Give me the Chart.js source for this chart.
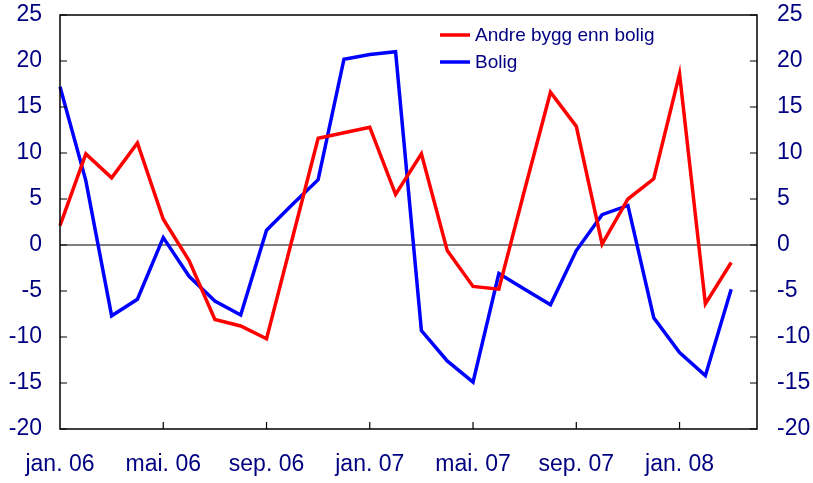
<!DOCTYPE html>
<html>
<head>
<meta charset="utf-8">
<script src="https://cdn.jsdelivr.net/npm/chart.js@4.4.0/dist/chart.umd.min.js"></script>
<style>
  body { margin: 0; background: #fff; }
  #wrap { width: 813px; height: 483px; }
</style>
</head>
<body>
<div id="wrap"><canvas id="chart" width="813" height="483"></canvas></div>
<script>
// Månedlige etiketter, jan. 06 - apr. 08
const months = ['jan.', 'feb.', 'mar.', 'apr.', 'mai.', 'jun.', 'jul.', 'aug.', 'sep.', 'okt.', 'nov.', 'des.'];
const labels = [];
for (let y = 6; y <= 8; y++) {
    for (let m = 0; m < 12; m++) {
        if (y === 8 && m > 3) break;
        labels.push(months[m] + ' 0' + y);
    }
}

// Serier (lest av fra figuren)
const andreBygg = [2.1, 9.9, 7.3, 11.1, 2.8, -1.7, -8.1, -8.8, -10.2, 0.7, 11.6, 12.2, 12.8, 5.5, 9.9,
    -0.6, -4.5, -4.8, 6.0, 16.6, 12.9, 0.1, 5.0, 7.2, 18.6, -6.4, -1.9];
const bolig = [17.2, 7.0, -7.7, -5.9, 0.8, -3.4, -6.1, -7.6, 1.6, 4.4, 7.1, 20.2, 20.7, 21.0, -9.3,
    -12.6, -14.9, -3.1, -4.8, -6.5, -0.6, 3.3, 4.3, -7.9, -11.7, -14.2, -4.8];

const yMin = -20, yMax = 25, yStep = 5;
const textColor = '#000080';
const fontFamily = "'Liberation Sans', Arial, sans-serif";

// Ramme, innvendige tikkmerker, nullinje og tegnforklaring
const framePlugin = {
    id: 'frame',
    beforeDatasetsDraw(chart) {
        const { ctx, chartArea: a, scales } = chart;
        const y0 = scales.y.getPixelForValue(0);
        ctx.save();
        ctx.strokeStyle = '#000';
        ctx.lineWidth = 1.2;
        ctx.beginPath();
        ctx.moveTo(a.left, y0);
        ctx.lineTo(a.right, y0);
        ctx.stroke();
        ctx.restore();
    },
    afterDraw(chart) {
        const { ctx, chartArea: a, scales } = chart;
        ctx.save();
        ctx.strokeStyle = '#000';
        ctx.lineWidth = 1.5;
        ctx.strokeRect(a.left, a.top, a.right - a.left, a.bottom - a.top);

        ctx.lineWidth = 1.2;
        ctx.beginPath();
        scales.y.ticks.forEach(t => {
            const py = scales.y.getPixelForValue(t.value);
            ctx.moveTo(a.left, py);
            ctx.lineTo(a.left + 7, py);
            ctx.moveTo(a.right, py);
            ctx.lineTo(a.right - 7, py);
        });
        labels.forEach((l, i) => {
            if (i > 0 && i % 4 === 0) {
                const px = scales.x.getPixelForValue(i);
                ctx.moveTo(px, a.bottom);
                ctx.lineTo(px, a.bottom - 7);
            }
        });
        ctx.stroke();

        // Tegnforklaring
        ctx.font = '19px ' + fontFamily;
        ctx.textBaseline = 'middle';
        chart.data.datasets.forEach((ds, i) => {
            const ly = 35 + i * 27;
            ctx.strokeStyle = ds.borderColor;
            ctx.lineWidth = 3.5;
            ctx.beginPath();
            ctx.moveTo(440, ly);
            ctx.lineTo(470, ly);
            ctx.stroke();
            ctx.fillStyle = textColor;
            ctx.fillText(ds.label, 475, ly + 1);
        });
        ctx.restore();
    }
};

new Chart(document.getElementById('chart'), {
    type: 'line',
    data: {
        labels: labels,
        datasets: [{
            label: 'Andre bygg enn bolig',
            data: andreBygg,
            borderColor: '#ff0000',
            borderWidth: 3.5,
            pointRadius: 0,
            tension: 0,
            yAxisID: 'y'
        }, {
            label: 'Bolig',
            data: bolig,
            borderColor: '#0000ff',
            borderWidth: 3.5,
            pointRadius: 0,
            tension: 0,
            yAxisID: 'y'
        }]
    },
    options: {
        responsive: false,
        animation: false,
        layout: { padding: { top: 15, left: 0, right: 0, bottom: 0 } },
        plugins: {
            legend: { display: false },
            tooltip: { enabled: false }
        },
        scales: {
            x: {
                offset: false,
                grid: { display: false, drawTicks: false },
                border: { display: false },
                ticks: {
                    autoSkip: false,
                    maxRotation: 0,
                    padding: 22,
                    color: textColor,
                    font: { family: fontFamily, size: 23 },
                    callback: (v, i) => i % 4 === 0 ? labels[i] : ''
                },
                afterFit: s => { s.height = 54; s.paddingLeft = 0; s.paddingRight = 0; }
            },
            y: {
                position: 'left',
                min: yMin,
                max: yMax,
                grid: { display: false, drawTicks: false },
                border: { display: false },
                ticks: {
                    stepSize: yStep,
                    padding: 18,
                    color: textColor,
                    font: { family: fontFamily, size: 23 }
                },
                afterFit: s => { s.width = 60; s.paddingTop = 0; s.paddingBottom = 0; }
            },
            y2: {
                position: 'right',
                min: yMin,
                max: yMax,
                grid: { display: false, drawTicks: false },
                border: { display: false },
                ticks: {
                    stepSize: yStep,
                    padding: 20,
                    color: textColor,
                    font: { family: fontFamily, size: 23 }
                },
                afterFit: s => { s.width = 56; s.paddingTop = 0; s.paddingBottom = 0; }
            }
        }
    },
    plugins: [framePlugin]
});
</script>
</body>
</html>
